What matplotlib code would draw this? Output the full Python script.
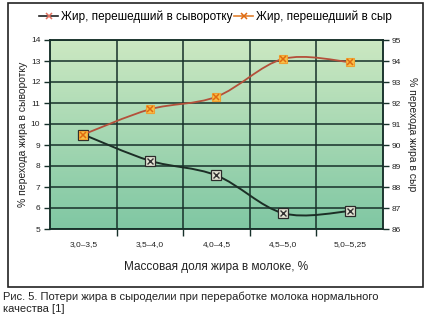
import numpy as np
import matplotlib
matplotlib.use('Agg')
import matplotlib.pyplot as plt
from matplotlib.path import Path
from matplotlib.patches import PathPatch, Rectangle
from matplotlib.lines import Line2D

plt.rcParams['font.family'] = ['Liberation Sans Narrow', 'Liberation Sans', 'DejaVu Sans']

# Данные
категории = ['3,0–3,5', '3,5–4,0', '4,0–4,5', '4,5–5,0', '5,0–5,25']
жир_сыворотка = [9.5, 8.25, 7.55, 5.75, 5.85]
жир_сыр = [90.5, 91.7, 92.3, 94.1, 93.95]

подпись_лев = '% перехода жира в сыворотку'
подпись_прав = '% перехода жира в сыр'
подпись_x = 'Массовая доля жира в молоке, %'
легенда = ['Жир, перешедший в сыворотку', 'Жир, перешедший в сыр']
рисунок = ('Рис. 5. Потери жира в сыроделии при переработке молока нормального\n'
           'качества [1]')

W, H = 431, 328
fig = plt.figure(figsize=(W / 100, H / 100), dpi=100)
fig.patch.set_facecolor('white')

ax = fig.add_axes([50 / W, 1 - 229 / H, 333 / W, 189 / H])
ax2 = ax.twinx()

x = np.arange(len(категории))
ax.set_xlim(-0.5, len(категории) - 0.5)
ax.set_ylim(5, 14)
ax2.set_ylim(86, 95)

# фон - градиент
grad = np.linspace(0, 1, 256).reshape(-1, 1)
top = np.array([0.80, 0.91, 0.76])
bot = np.array([0.50, 0.78, 0.64])
img = top * (1 - grad[..., None]) + bot * grad[..., None]
img = img.reshape(256, 1, 3)
ax.imshow(img, extent=[-0.5, len(категории) - 0.5, 5, 14], aspect='auto',
          zorder=0, origin='upper')

gridc = '#17302a'
ax.set_yticks(range(5, 15))
ax2.set_yticks(range(86, 96))
ax.set_xticks(x)
ax.set_xticklabels(категории)
ax.set_xticks(np.arange(0.5, len(категории) - 1), minor=True)
ax.grid(axis='y', color=gridc, lw=1.1, zorder=1)
ax.grid(axis='x', which='minor', color=gridc, lw=1.1, zorder=1)
ax.tick_params(axis='x', which='major', length=0, labelsize=6, pad=9, colors='#222222')
ax.tick_params(axis='x', which='minor', length=5, width=1, color=gridc)
ax.tick_params(axis='y', length=4, width=1, color=gridc, labelsize=6, pad=3, labelcolor='#222222')
ax2.tick_params(axis='y', length=4, width=1, color=gridc, labelsize=6, pad=2, labelcolor='#222222')
for a in (ax, ax2):
    for s in a.spines.values():
        s.set_color(gridc)
        s.set_linewidth(1.1)
ax2.patch.set_visible(False)


def сглаженная(a, xs, ys, color, lw):
    # сглаженная линия (кривые Безье через точки)
    pts = np.column_stack([xs, ys]).astype(float)
    verts = [pts[0]]
    codes = [Path.MOVETO]
    n = len(pts)
    for i in range(n - 1):
        p0 = pts[max(i - 1, 0)]
        p1 = pts[i]
        p2 = pts[i + 1]
        p3 = pts[min(i + 2, n - 1)]
        c1 = p1 + (p2 - p0) / 6
        c2 = p2 - (p3 - p1) / 6
        verts += [c1, c2, p2]
        codes += [Path.CURVE4] * 3
    a.add_patch(PathPatch(Path(verts, codes), fill=False, ec=color, lw=lw, zorder=3))


сглаженная(ax, x, жир_сыворотка, '#1c2e26', 1.4)
ax.plot(x, жир_сыворотка, ls='none', marker='s', ms=7, mfc='#e4e4d4', mec='#2a2a2a',
        mew=0.9, zorder=4)
ax.plot(x, жир_сыворотка, ls='none', marker='x', ms=5, mec='#333333', mew=1.0, zorder=5)

сглаженная(ax2, x, жир_сыр, '#b4503a', 1.3)
ax2.plot(x, жир_сыр, ls='none', marker='s', ms=6, mfc='#f7c048', mec='#f0a030',
         mew=0.8, zorder=4)
ax2.plot(x, жир_сыр, ls='none', marker='x', ms=5, mec='#e06a10', mew=1.1, zorder=5)

ax.set_ylabel(подпись_лев, fontsize=7.5, color='#222222', va='center')
ax.yaxis.set_label_coords(-0.081, 0.5)
ax2.set_ylabel(подпись_прав, fontsize=7.5, color='#222222', rotation=270, va='center')
ax2.yaxis.set_label_coords(1.087, 0.5)
ax.set_xlabel(подпись_x, fontsize=8.5, color='#222222', labelpad=9)

h1 = Line2D([], [], color='#222222', lw=1.2, marker='x', ms=5, mec='#e07060', mew=1.1)
h2 = Line2D([], [], color='#e08030', lw=1.2, marker='x', ms=5, mec='#e06a10', mew=1.1)
fig.legend([h1, h2], легенда, loc='center', bbox_to_anchor=(0.5, 1 - 17 / H),
           ncol=2, frameon=False, fontsize=8.5, handlelength=1.6, handletextpad=0.2,
           columnspacing=0.2)

# рамка
fig.patches.append(Rectangle((8 / W, 1 - 287 / H), 415 / W, 284 / H,
                             transform=fig.transFigure, fill=False,
                             ec='#222222', lw=1.2))

fig.text(3 / W, 1 - 292 / H, рисунок, fontsize=8, va='top', ha='left',
         color='#222222', linespacing=1.15)

fig.savefig('out.png', dpi=100)
